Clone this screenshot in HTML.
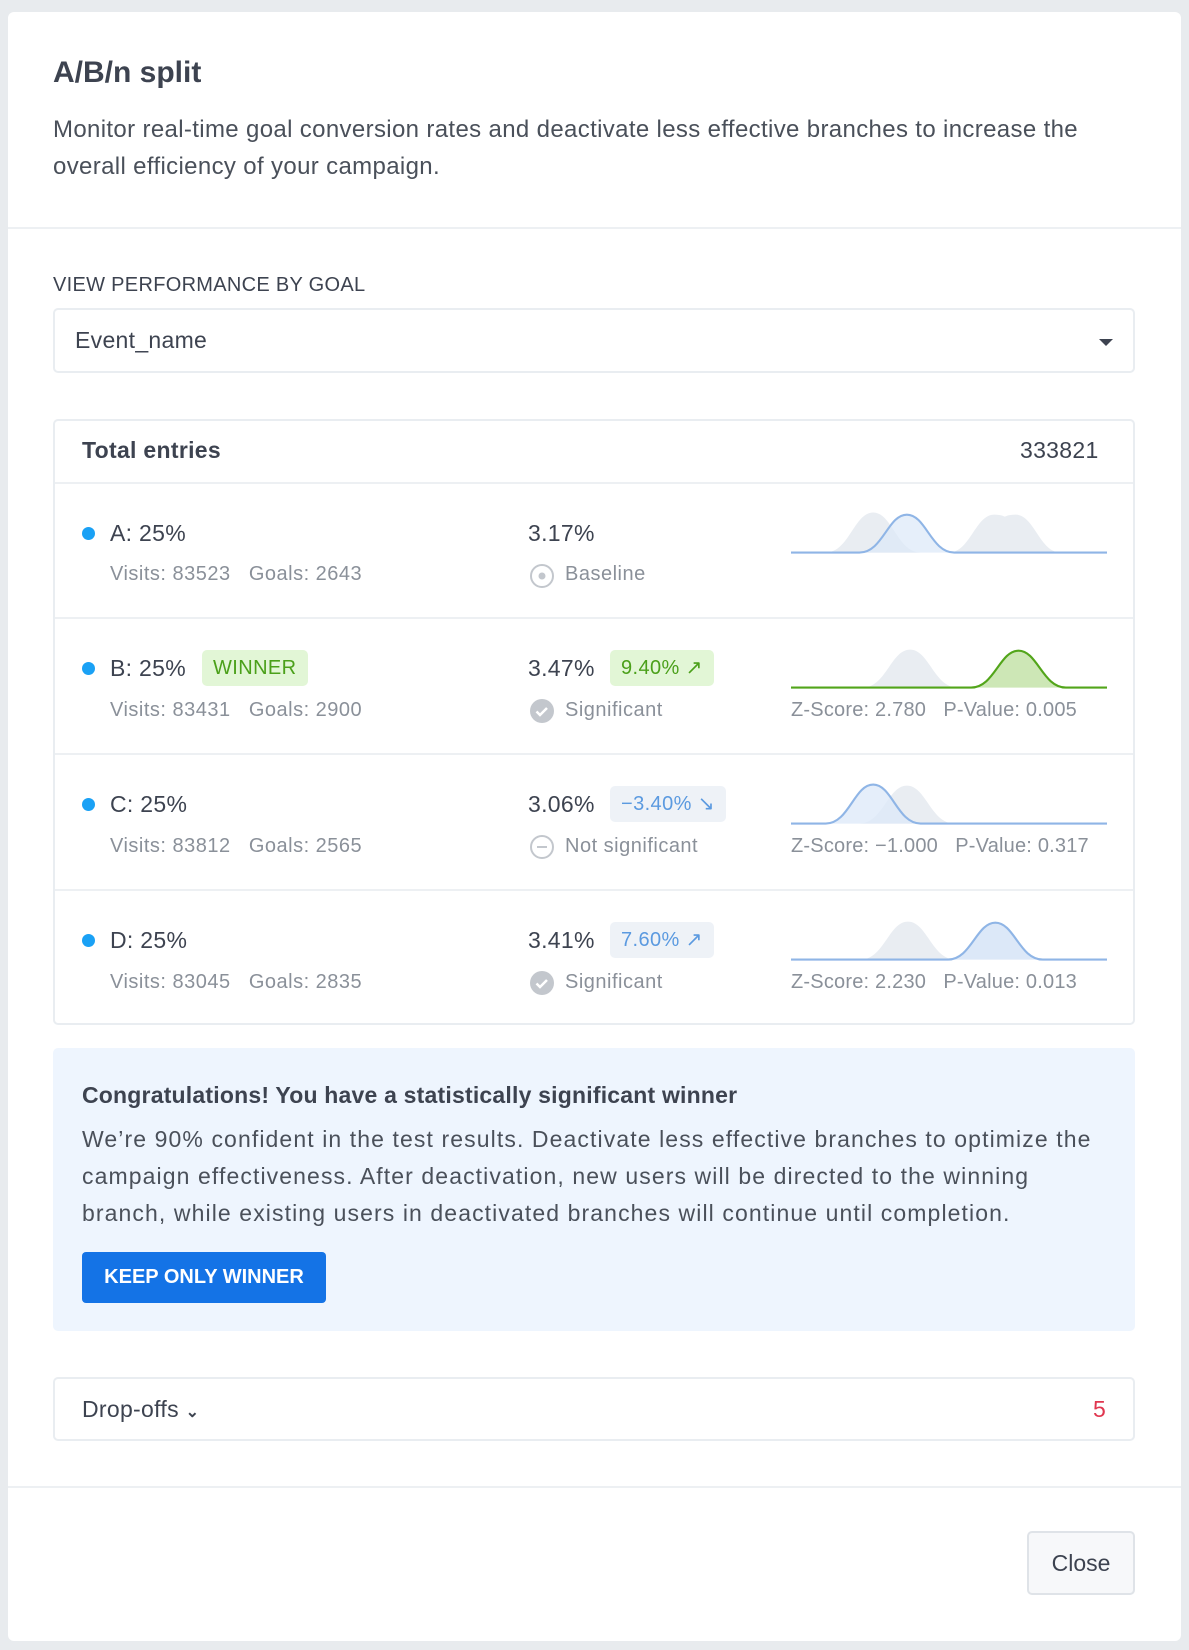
<!DOCTYPE html>
<html><head><meta charset="utf-8"><style>
*{box-sizing:border-box;margin:0;padding:0}
body{width:1189px;height:1650px;background:#e8ebee;font-family:"Liberation Sans",sans-serif;color:#3d4350;position:relative;overflow:hidden}
.a{position:absolute;white-space:nowrap}
.card{position:absolute;left:8px;top:12px;width:1173px;height:1629px;background:#fff;border-radius:6px}
.hr{position:absolute;left:8px;width:1173px;height:2px;background:#edf0f3}
.box{position:absolute;left:53px;width:1082px;border:2px solid #e9edf1;border-radius:5px}
.rl{position:absolute;left:55px;width:1078px;height:2px;background:#edf0f3}
.lab{font-size:23px;color:#3d4350;letter-spacing:0.3px}
.sub{font-size:20px;color:#8a9099;letter-spacing:0.5px}
.dot{width:13px;height:13px;border-radius:50%;background:#1aa1f5}
.badge{font-size:20px;padding:0 11px;height:36px;line-height:36px;border-radius:5px;letter-spacing:0.4px}
.g{background:#e2f6d6;color:#4ba01a}
.b{background:#eef2f7;color:#5b9ae0}
</style></head><body>
<div class="card"></div>
<div class="a" style="left:53px;top:56px;font-size:30px;font-weight:bold;color:#3d4350">A/B/n split</div>
<div class="a" style="left:53px;top:111px;font-size:24px;line-height:37px;color:#4a505a;letter-spacing:0.35px">Monitor real-time goal conversion rates and deactivate less effective branches to increase the<br>overall efficiency of your campaign.</div>
<div class="hr" style="top:227px"></div>
<div class="a" style="left:53px;top:274px;font-size:20px;color:#3d4350;letter-spacing:0.3px">VIEW PERFORMANCE BY GOAL</div>
<div class="box" style="top:308px;height:65px"></div>
<div class="a" style="left:75px;top:327px;font-size:23px;letter-spacing:0.3px">Event_name</div>
<div class="a" style="left:1099px;top:339px;width:0;height:0;border-left:7px solid transparent;border-right:7px solid transparent;border-top:7px solid #3d4350"></div>

<div class="box" style="top:419px;height:606px"></div>
<div class="a lab" style="left:82px;top:437px;font-weight:bold;color:#3d4350">Total entries</div>
<div class="a lab" style="left:1020px;top:437px">333821</div>
<div class="rl" style="top:482px"></div>
<div class="rl" style="top:617px"></div>
<div class="rl" style="top:753px"></div>
<div class="rl" style="top:889px"></div>

<div class="a dot" style="left:82px;top:527px"></div>
<div class="a lab" style="left:110px;top:520px">A: 25%</div>
<div class="a sub" style="left:110px;top:563px">Visits: 83523&nbsp;&nbsp;&nbsp;Goals: 2643</div>
<div class="a lab" style="left:528px;top:520px">3.17%</div>
<svg class="a" style="left:529px;top:563px" width="26" height="26"><circle cx="13" cy="13" r="11" fill="none" stroke="#c3c7cd" stroke-width="2"/><circle cx="13" cy="13" r="3.5" fill="#c3c7cd"/></svg>
<div class="a sub" style="left:565px;top:563px">Baseline</div>

<div class="a dot" style="left:82px;top:662px"></div>
<div class="a lab" style="left:110px;top:655px">B: 25%</div>
<div class="a badge g" style="left:202px;top:650px">WINNER</div>
<div class="a sub" style="left:110px;top:699px">Visits: 83431&nbsp;&nbsp;&nbsp;Goals: 2900</div>
<div class="a lab" style="left:528px;top:655px">3.47%</div>
<div class="a badge g" style="left:610px;top:650px">9.40% ↗</div>
<svg class="a" style="left:529px;top:698px" width="26" height="26"><circle cx="13" cy="13" r="12" fill="#c3c7cd"/><path d="M7.5 13.5l3.5 3.5 7-7" fill="none" stroke="#fff" stroke-width="2.5"/></svg>
<div class="a sub" style="left:565px;top:699px">Significant</div>
<div class="a sub" style="left:791px;top:699px;letter-spacing:0.2px">Z-Score: 2.780&nbsp;&nbsp;&nbsp;P-Value: 0.005</div>

<div class="a dot" style="left:82px;top:798px"></div>
<div class="a lab" style="left:110px;top:791px">C: 25%</div>
<div class="a sub" style="left:110px;top:835px">Visits: 83812&nbsp;&nbsp;&nbsp;Goals: 2565</div>
<div class="a lab" style="left:528px;top:791px">3.06%</div>
<div class="a badge b" style="left:610px;top:786px">−3.40% ↘</div>
<svg class="a" style="left:529px;top:834px" width="26" height="26"><circle cx="13" cy="13" r="11" fill="none" stroke="#c3c7cd" stroke-width="2"/><path d="M8 13h10" stroke="#c3c7cd" stroke-width="2"/></svg>
<div class="a sub" style="left:565px;top:835px">Not significant</div>
<div class="a sub" style="left:791px;top:835px;letter-spacing:0.2px">Z-Score: −1.000&nbsp;&nbsp;&nbsp;P-Value: 0.317</div>

<div class="a dot" style="left:82px;top:934px"></div>
<div class="a lab" style="left:110px;top:927px">D: 25%</div>
<div class="a sub" style="left:110px;top:971px">Visits: 83045&nbsp;&nbsp;&nbsp;Goals: 2835</div>
<div class="a lab" style="left:528px;top:927px">3.41%</div>
<div class="a badge b" style="left:610px;top:922px">7.60% ↗</div>
<svg class="a" style="left:529px;top:970px" width="26" height="26"><circle cx="13" cy="13" r="12" fill="#c3c7cd"/><path d="M7.5 13.5l3.5 3.5 7-7" fill="none" stroke="#fff" stroke-width="2.5"/></svg>
<div class="a sub" style="left:565px;top:971px">Significant</div>
<div class="a sub" style="left:791px;top:971px;letter-spacing:0.2px">Z-Score: 2.230&nbsp;&nbsp;&nbsp;P-Value: 0.013</div>

<svg class="a" style="left:791px;top:505px" width="316" height="53" viewBox="0 0 300 50">
<path d="M33 45C55 45 60 7 78 7C96 7 101 45 123 45Z" fill="#e9edf2"/>
<path d="M150 45C170 45 175 9 193 9C200 9 203 11 203 11C203 11 206 9 213 9C231 9 236 45 256 45Z" fill="#e9edf2"/>
<path d="M0 45H65C87 45 92 9 110 9C128 9 133 45 155 45H300" fill="#dce8f8" fill-opacity="0.7" stroke="#8fb5e6" stroke-width="2"/>
</svg>
<svg class="a" style="left:791px;top:640px" width="316" height="53" viewBox="0 0 300 50">
<path d="M68 45C90 45 95 9 113 9C131 9 136 45 158 45Z" fill="#e9edf2"/>
<path d="M0 45H171C193 45 198 10 216 10C234 10 239 45 261 45H300" fill="#cde7b6" stroke="#52a51a" stroke-width="2"/>
</svg>
<svg class="a" style="left:791px;top:776px" width="316" height="53" viewBox="0 0 300 50">
<path d="M65 45C87 45 92 9 110 9C128 9 133 45 155 45Z" fill="#e9edf2"/>
<path d="M0 45H33C55 45 60 8 78 8C96 8 101 45 123 45H300" fill="#dce8f8" fill-opacity="0.75" stroke="#8fb5e6" stroke-width="2"/>
</svg>
<svg class="a" style="left:791px;top:912px" width="316" height="53" viewBox="0 0 300 50">
<path d="M66 45C88 45 93 9 111 9C129 9 134 45 156 45Z" fill="#e9edf2"/>
<path d="M0 45H149C171 45 176 10 194 10C212 10 217 45 239 45H300" fill="#dce8f8" stroke="#8fb5e6" stroke-width="2"/>
</svg>

<div class="a" style="left:53px;top:1048px;width:1082px;height:283px;background:#eef5fe;border-radius:5px"></div>
<div class="a" style="left:82px;top:1082px;font-size:23px;font-weight:bold;color:#3d4350;letter-spacing:0.2px">Congratulations! You have a statistically significant winner</div>
<div class="a" style="left:82px;top:1121px;font-size:23px;line-height:37px;color:#4a505a;letter-spacing:1.1px">We’re 90% confident in the test results. Deactivate less effective branches to optimize the<br>campaign effectiveness. After deactivation, new users will be directed to the winning<br>branch, while existing users in deactivated branches will continue until completion.</div>
<div class="a" style="left:82px;top:1252px;width:244px;height:51px;background:#1473e6;border-radius:4px;color:#fff;font-weight:bold;font-size:20px;line-height:51px;text-align:center">KEEP ONLY WINNER</div>

<div class="box" style="top:1377px;height:64px"></div>
<div class="a lab" style="left:82px;top:1396px">Drop-offs <span style="font-size:16px;font-weight:bold">&#8964;</span></div>
<div class="a lab" style="left:1093px;top:1396px;color:#e0364f">5</div>
<div class="hr" style="top:1486px"></div>
<div class="a" style="left:1027px;top:1531px;width:108px;height:64px;border:2px solid #dfe3e8;border-radius:5px;background:#f7f8fa;font-size:23px;line-height:60px;text-align:center;color:#3d4350">Close</div>
</body></html>
